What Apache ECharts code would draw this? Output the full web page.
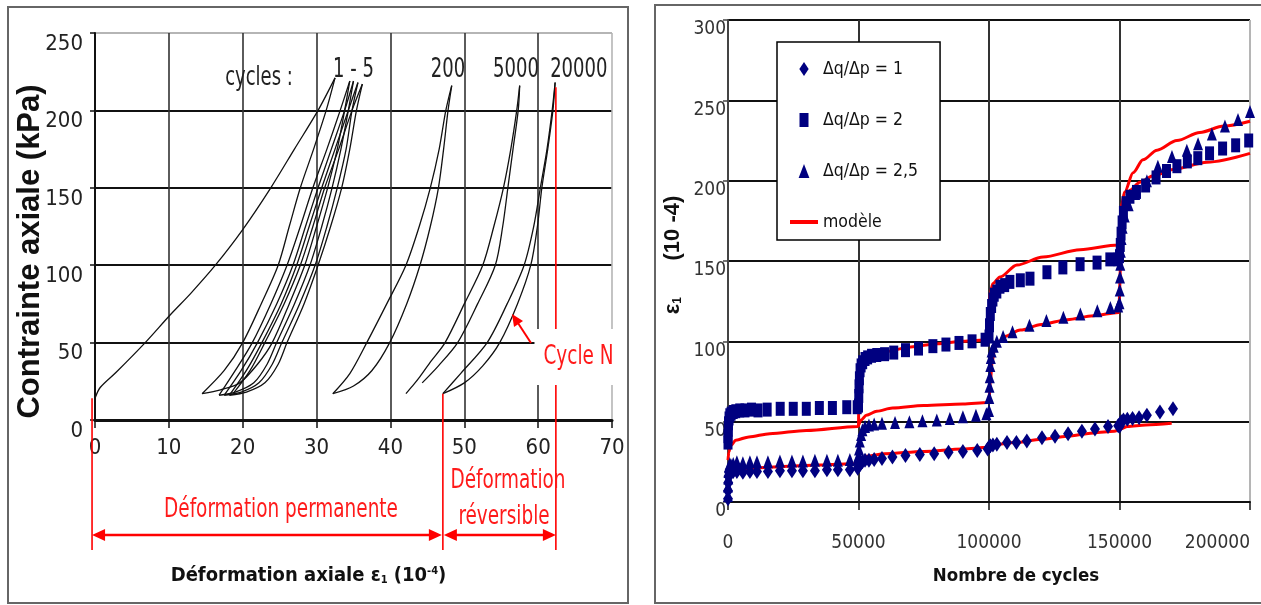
<!DOCTYPE html>
<html><head><meta charset="utf-8">
<script src="https://cdn.jsdelivr.net/npm/echarts@6/dist/echarts.min.js"></script>
<style>html,body{margin:0;padding:0;background:#fff}#c{width:1261px;height:605px}</style>
</head><body><div id="c"></div>
<script>
const NARROW = "'Liberation Sans Narrow','DejaVu Sans Condensed','Arial Narrow',sans-serif";
const WIDE = "'Liberation Sans',Arial,sans-serif";

// ---------- Left panel: stress-strain loops ----------
const leftXTicks = [0, 10, 20, 30, 40, 50, 60, 70];
const leftYTicks = [0, 50, 100, 150, 200, 250];
const cycle1Load = [[0,14],[0.7,21],[2.9,31],[6.8,50],[10.2,68],[13,82],[16.3,100],[20,123],[23.8,150],[27,175],[30.2,200],[32.5,221]];
const cycle1Unload = [[32.5,221],[31.3,200],[29.6,175],[27.8,150],[26.3,125],[24.8,100],[22.5,75],[20,50],[17.5,32],[14.5,17]];
const cycle2Load = [[14.5,17],[17,19.5],[19.6,24],[22,36],[24,50],[26.3,75],[28.4,100],[30,125],[31.5,150],[32.8,175],[33.8,200],[34.5,219]];
const cycle2Unload = [[34.5,219],[33.2,200],[31.4,175],[29.5,150],[27.8,125],[26,100],[23.8,75],[21.3,50],[19,32],[16.8,16]];
const cycle3Load = [[16.8,16],[19,18],[21.5,24],[23.3,36],[24.6,50],[27,75],[29.1,100],[30.7,125],[32.1,150],[33.3,175],[34.3,200],[35,219]];
const cycle3Unload = [[35,219],[33.8,200],[32,175],[30.2,150],[28.5,125],[26.8,100],[24.6,75],[22,50],[19.8,32],[17.5,16]];
const cycle4Load = [[17.5,16],[19.8,18],[22.2,24],[24,36],[25.3,50],[27.7,75],[29.8,100],[31.4,125],[32.8,150],[34,175],[34.8,200],[35.6,218]];
const cycle4Unload = [[35.6,218],[34.3,200],[32.5,175],[30.7,150],[29,125],[27.3,100],[25.2,75],[22.6,50],[20.5,32],[18.2,16]];
const cycle5Load = [[18.2,16],[20.5,18],[23,24],[24.8,36],[26,50],[28.3,75],[30.2,100],[31.9,125],[33.4,150],[34.5,175],[35.4,200],[36.2,217]];
const cycle5Unload = [[36.2,217],[34.8,200],[33,175],[31.1,150],[29.5,125],[27.8,100],[25.6,75],[23,50],[21,32],[18.7,17]];
const cycle200Left = [[32.2,17],[34.5,30],[36.8,50],[39.5,75],[42.1,100],[43.9,125],[45.4,150],[46.6,175],[47.5,200],[48.3,216]];
const cycle200Right = [[32.2,17],[35,22],[37.5,32],[39.9,50],[42.2,75],[44,100],[45.4,125],[46.5,150],[47.2,175],[47.8,200],[48.3,216]];
const cycle5000Left = [[42.1,17],[43,22],[44,28],[45.5,38],[47.4,50],[50,75],[52.5,100],[54,125],[55.3,150],[56.3,175],[57.1,200],[57.5,216]];
const cycle5000Right = [[44.3,24],[46.5,35],[49.1,50],[51.8,75],[54.2,100],[55.2,125],[55.9,150],[56.6,175],[57.3,200],[57.5,216]];
const cycle20000Left = [[47.1,17],[49.5,30],[53.1,50],[55.8,75],[58.1,100],[59.4,125],[60.3,150],[61.2,175],[61.9,200],[62.3,218]];
const cycle20000Right = [[47.1,17],[50,24],[52.5,35],[54.8,50],[57.2,75],[59,100],[59.9,125],[60.5,150],[61.3,175],[62,200],[62.3,218]];
const loopLabels = ['cycles :', '1 - 5', '200', '5000', '20000'];
const loopLabelAt = [[22.2, 221], [35.0, 226], [47.8, 226], [57.0, 226], [65.5, 226]];

// ---------- Right panel: permanent strain vs number of cycles ----------
const rightXTicks = [0, 50000, 100000, 150000, 200000];
const rightYTicks = [0, 50, 100, 150, 200, 250, 300];
const seriesNames = ['Δq/Δp = 1', 'Δq/Δp = 2', 'Δq/Δp = 2,5', 'modèle'];
const ratio1 = [[0,2],[0,7],[100,12],[200,16],[400,19],[700,20],[1200,18],[2000,19],[3400,19],[5700,18.5],[8400,19],[11100,19],[15300,19],[19900,19.5],[24500,19.5],[28700,19.5],[33300,19.5],[37900,20],[42100,20],[46700,20],[49700,21],
  [50000,22],[50300,24],[50800,25],[51500,25],[52500,26],[54000,26],[56000,26.5],[59000,27],[63000,28],[68000,29],[73500,29.5],[79000,30],[84500,31],[90000,31.5],[95500,32],[99500,33],
  [100000,34],[100500,35],[101500,35.5],[103000,36],[106900,37],[110500,37],[114500,38],[120300,40],[125300,41],[130300,42.5],[135600,44],[140600,45.5],[145600,47],[149500,47.5],
  [150000,47],[150300,49],[150700,50],[151500,51],[153000,51.5],[155000,52],[157500,52.5],[160500,54],[165500,56],[170500,58]];
const ratio2 = [[0,37],[0,41],[100,45],[200,49],[400,52],[700,54],[1200,55],[2000,56],[3000,56.5],[4500,57],[6500,57],[9000,57.5],[11500,57],[15000,57.5],[20000,58],[25000,58],[30000,58],[35000,58.5],[40000,58.5],[45500,59],[49500,59],
  [50000,60],[50100,66],[50200,72],[50350,77],[50600,82],[51000,85],[51600,87],[52500,89],[53500,90],[55000,91],[57000,91.5],[60000,92],[63500,93],[68000,94.5],[73000,95.5],[78500,97],[83500,98],[88500,99],[93500,100],[98500,101],
  [100000,103],[100200,110],[100500,117],[101000,122],[101500,126],[102000,129],[103000,131],[104200,134],[106000,135],[108000,137],[112000,138],[115700,139],[122200,143],[128300,146],[134900,148],[141400,149],[146300,151],[149500,151],
  [150000,153],[150300,160],[150600,167],[151000,174],[151500,180],[152500,186],[154000,190],[156500,193],[160000,197],[164000,202],[168000,206],[172000,209],[176000,212],[180000,214],[184500,217],[189500,220],[194500,222],[199500,225]];
const ratio25 = [[0,4],[0,10],[100,15],[200,19],[400,22],[700,24],[1200,23],[2000,24],[3400,25],[5700,24.5],[8400,25],[11100,25],[15300,25],[19900,25.5],[24500,25.5],[28700,25.5],[33300,26],[37900,26],[42100,26],[46700,26.5],[49700,27],
  [50000,29],[50200,33],[50500,38],[51000,42],[51500,45],[52500,47],[54000,48],[56000,48.5],[59000,49],[64000,49.5],[69500,50],[74500,50.5],[80000,51],[85000,52],[90000,53],[95000,54],[99000,55],
  [100000,57],[100100,65],[100200,72],[100300,78],[100500,85],[100700,90],[101000,94],[101800,97],[103000,100],[105400,103],[109000,106],[115500,110],[122000,113],[128500,115],[135000,117],[141500,119],[146500,121],[149500,122],
  [150000,124],[150100,132],[150200,140],[150300,148],[150500,156],[150800,164],[151200,171],[152000,178],[153500,185],[156000,192],[160500,200],[164700,209],[170100,215],[175800,219],[180100,223],[185400,229],[190400,234],[195400,238],[200000,243]];
const model1 = [[0,10],[300,17],[1500,20],[8000,21],[20000,22],[35000,23],[49700,24],[50500,26.5],[53000,28.5],[60000,30],[75000,31.5],[90000,33],[99700,34],[101000,35.5],[110000,37],[120000,39],[130000,41],[140000,43],[148000,44],[150500,45.5],[153000,47],[160000,48],[170000,49]];
const model25 = [[0,26],[300,31],[1000,35],[3000,38.5],[8000,40.5],[16000,42.5],[30000,44.5],[49700,47],[51000,51],[53000,54],[57000,56.5],[63000,58.5],[75000,60],[90000,61],[99700,62],[100000,64],[100500,75],[101200,87],[102000,94],[103000,98.5],[106000,103],[112000,107],[120000,110.5],[130000,113.5],[140000,116],[149700,118],[150500,150],[151200,175],[152500,188],[154000,194],[157800,199],[163000,203],[170500,207],[183500,211.5],[200000,217]];
const model2 = [[50000,47],[50200,70],[50500,80],[51000,85],[52500,88.5],[55000,91],[60000,93.5],[70000,96.5],[80000,98.5],[90000,100],[99700,101],[100100,115],[100400,130],[101500,136],[104200,140],[110700,147.5],[120700,152.5],[134900,157],[149500,160],[150200,172],[150600,184],[152000,193],[155200,205],[159000,213],[164400,219],[172000,225],[180800,230],[190000,234],[200000,237]];

const leftCurveList = [cycle1Load, cycle1Unload, cycle2Load, cycle2Unload, cycle3Load, cycle3Unload, cycle4Load, cycle4Unload, cycle5Load, cycle5Unload,
  cycle200Left, cycle200Right, cycle5000Left, cycle5000Right, cycle20000Left, cycle20000Right];

const NAVY = '#000080', RED = '#ff0000', ANN = '#ff1a1a';

const series = [];
leftCurveList.forEach((d, i) => series.push({
  type: 'line', name: 'loop' + i, xAxisIndex: 0, yAxisIndex: 0, data: d,
  showSymbol: false, smooth: 0.3, lineStyle: {color: '#111', width: 1.3}, silent: true, z: 3
}));
[model1, model25, model2].forEach(d => series.push({
  type: 'line', name: seriesNames[3], xAxisIndex: 1, yAxisIndex: 1, data: d,
  showSymbol: false, smooth: 0.3, smoothMonotone: 'x', lineStyle: {color: RED, width: 3}, itemStyle: {color: RED}, z: 2
}));
series.push({type: 'scatter', name: seriesNames[0], xAxisIndex: 1, yAxisIndex: 1, data: ratio1, symbol: 'diamond', symbolSize: [10, 15], itemStyle: {color: NAVY, opacity: 1}, z: 3});
series.push({type: 'scatter', name: seriesNames[1], xAxisIndex: 1, yAxisIndex: 1, data: ratio2, symbol: 'rect', symbolSize: [9, 14], itemStyle: {color: NAVY, opacity: 1}, z: 3});
series.push({type: 'scatter', name: seriesNames[2], xAxisIndex: 1, yAxisIndex: 1, data: ratio25, symbol: 'triangle', symbolSize: [10, 13], itemStyle: {color: NAVY, opacity: 1}, z: 4});

const gridL = {left: 95, top: 33, width: 517, height: 387};
const gridR = {left: 728, top: 20, width: 522, height: 482};

const option = {
  animation: false,
  backgroundColor: '#fff',
  grid: [Object.assign({outerBoundsMode: 'none', containLabel: false}, gridL), Object.assign({outerBoundsMode: 'none', containLabel: false}, gridR)],
  legend: {
    orient: 'vertical', left: 777, top: 42,
    backgroundColor: '#fff', borderColor: '#000', borderWidth: 1.5, borderRadius: 0,
    padding: [18, 22, 9, 13], itemWidth: 28, itemHeight: 14, itemGap: 33, symbolKeepAspect: true,
    selectedMode: false,
    textStyle: {fontFamily: NARROW, fontSize: 17.5, color: '#111'},
    data: [
      {name: seriesNames[0], icon: 'path://M5,0L10,7.5L5,15L0,7.5Z'},
      {name: seriesNames[1], icon: 'path://M0,0H9V14H0Z'},
      {name: seriesNames[2], icon: 'path://M5,0L10,13H0Z'},
      {name: seriesNames[3], icon: 'path://M0,0H28V4H0Z'}
    ]
  },
  xAxis: [{
    gridIndex: 0, type: 'value', min: leftXTicks[0], max: leftXTicks[leftXTicks.length - 1], interval: leftXTicks[1] - leftXTicks[0],
    name: '{t|Déformation axiale ε}{s|1}{t| (10}{p|-4}{t|)}', nameLocation: 'middle', nameGap: 146, nameMoveOverlap: false,
    nameTextStyle: {padding: [0, 90, 0, 0], rich: {
      t: {fontFamily: NARROW, fontWeight: 'bold', fontSize: 20, color: '#111'},
      s: {fontFamily: NARROW, fontWeight: 'bold', fontSize: 11, color: '#111', verticalAlign: 'bottom'},
      p: {fontFamily: NARROW, fontWeight: 'bold', fontSize: 11, color: '#111', verticalAlign: 'top'}}},
    axisLine: {show: true, onZero: false, lineStyle: {color: '#111', width: 3}},
    axisTick: {show: true, length: 8, lineStyle: {color: '#111', width: 1.5}},
    axisLabel: {margin: 17, fontFamily: NARROW, fontSize: 22, color: '#222', formatter: v => String(v)},
    splitLine: {show: true, lineStyle: {color: ['#333', '#333', '#333', '#333', '#333', '#333', '#333', '#b5b5b5'], width: 1.6}}
  }, {
    gridIndex: 1, type: 'value', min: rightXTicks[0], max: rightXTicks[rightXTicks.length - 1], interval: rightXTicks[1] - rightXTicks[0],
    name: 'Nombre de cycles', nameLocation: 'middle', nameGap: 65, nameMoveOverlap: false,
    nameTextStyle: {fontFamily: NARROW, fontWeight: 'bold', fontSize: 18.5, color: '#111', padding: [0, 0, 0, 54]},
    axisLine: {show: true, onZero: false, lineStyle: {color: '#111', width: 2}},
    axisTick: {show: true, length: 8, lineStyle: {color: '#111', width: 1.5}},
    axisLabel: {margin: 32, fontFamily: NARROW, fontSize: 19, color: '#333', alignMaxLabel: 'right', formatter: v => String(v)},
    splitLine: {show: true, lineStyle: {color: ['#333', '#333', '#333', '#333', '#b5b5b5'], width: 2}}
  }],
  yAxis: [{
    gridIndex: 0, type: 'value', min: leftYTicks[0], max: leftYTicks[leftYTicks.length - 1], interval: leftYTicks[1] - leftYTicks[0],
    name: 'Contrainte axiale (kPa)', nameLocation: 'middle', nameRotate: 90, nameGap: 49, nameMoveOverlap: false,
    nameTextStyle: {fontFamily: WIDE, fontWeight: 'bold', fontSize: 31, color: '#111', padding: [0, 50, 0, 0]},
    axisLine: {show: true, onZero: false, lineStyle: {color: '#111', width: 2}},
    axisTick: {show: true, length: 5, lineStyle: {color: '#111', width: 1.5}},
    axisLabel: {margin: 12, fontFamily: NARROW, fontSize: 22, color: '#222', verticalAlign: 'top', formatter: v => String(v)},
    splitLine: {show: true, lineStyle: {color: ['#111', '#111', '#111', '#111', '#111', '#b5b5b5'], width: 2.2}}
  }, {
    gridIndex: 1, type: 'value', min: rightYTicks[0], max: rightYTicks[rightYTicks.length - 1], interval: rightYTicks[1] - rightYTicks[0],
    name: '{e|ε}{s|1}{t|      (10 -4)}', nameLocation: 'middle', nameRotate: 90, nameGap: 44, nameMoveOverlap: false,
    nameTextStyle: {padding: [0, 0, 0, 12], rich: {
      e: {fontFamily: WIDE, fontWeight: 'bold', fontSize: 22, color: '#111'},
      s: {fontFamily: WIDE, fontWeight: 'bold', fontSize: 12, color: '#111', verticalAlign: 'bottom'},
      t: {fontFamily: WIDE, fontWeight: 'bold', fontSize: 22, color: '#111'}}},
    axisLine: {show: true, onZero: false, lineStyle: {color: '#444', width: 2}},
    axisTick: {show: true, length: 5, lineStyle: {color: '#444', width: 1.5}},
    axisLabel: {margin: 2, fontFamily: NARROW, fontSize: 19, color: '#333', verticalAlign: 'top', formatter: v => String(v)},
    splitLine: {show: true, lineStyle: {color: '#111', width: 2.2}}
  }],
  series: series
};

const chart = echarts.init(document.getElementById('c'), null, {renderer: 'canvas'});
chart.setOption(option);

// ---------- annotations (frames, red arrows, labels) ----------
const P = (x, y) => chart.convertToPixel({gridIndex: 0}, [x, y]);
const permStart = P(-0.4, 14), revStart = P(47.1, 17), revEnd = P(62.4, 215);
const arrowY = 535, lineBottom = 550;
const g = [];
g.push({type: 'rect', shape: {x: 8, y: 7, width: 620, height: 596}, style: {fill: 'none', stroke: '#666', lineWidth: 2}, z: 0, silent: true});
g.push({type: 'rect', shape: {x: 655, y: 5, width: 612, height: 598}, style: {fill: 'none', stroke: '#666', lineWidth: 2}, z: 0, silent: true});
[permStart, revStart, revEnd].forEach(p => g.push({type: 'line', shape: {x1: p[0], y1: p[1], x2: p[0], y2: lineBottom}, style: {stroke: RED, lineWidth: 1.6}, z: 5, silent: true}));
function dblArrow(xa, xb) {
  g.push({type: 'line', shape: {x1: xa + 4, y1: arrowY, x2: xb - 4, y2: arrowY}, style: {stroke: RED, lineWidth: 2.5}, z: 5, silent: true});
  g.push({type: 'polygon', shape: {points: [[xa, arrowY], [xa + 13, arrowY - 6], [xa + 13, arrowY + 6]]}, style: {fill: RED}, z: 5, silent: true});
  g.push({type: 'polygon', shape: {points: [[xb, arrowY], [xb - 13, arrowY - 6], [xb - 13, arrowY + 6]]}, style: {fill: RED}, z: 5, silent: true});
}
dblArrow(permStart[0], revStart[0] - 1);
dblArrow(revStart[0] + 1, revEnd[0]);
const annText = (text, x, y, size, extra) => g.push(Object.assign({type: 'text', x: x, y: y, scaleY: 1.3, silent: true, z: 6,
  style: Object.assign({text: text, fill: ANN, font: size + "px " + NARROW, align: 'center', verticalAlign: 'middle'}, extra || {})}));
annText('Déformation permanente', 281, 510, 20.5);
annText('Déformation', 508, 481, 20.5);
annText('réversible', 504, 517, 20.5);
annText('Cycle N', 575, 357, 20.5, {backgroundColor: '#fff', padding: [16, 2, 6, 9]});
// small arrow pointing to cycle N loop
g.push({type: 'line', shape: {x1: 531, y1: 343, x2: 516, y2: 320}, style: {stroke: RED, lineWidth: 2}, z: 6, silent: true});
g.push({type: 'polygon', shape: {points: [[512, 314], [523, 321], [514, 327]]}, style: {fill: RED}, z: 6, silent: true});
loopLabels.forEach((t, i) => {
  const p = P(loopLabelAt[i][0], loopLabelAt[i][1]);
  g.push({type: 'text', x: p[0], y: p[1], scaleY: 1.3, silent: true, z: 6,
    style: {text: t, fill: '#222', font: "20px " + NARROW, align: 'center', verticalAlign: 'middle'}});
});
chart.setOption({graphic: g});
</script></body></html>
